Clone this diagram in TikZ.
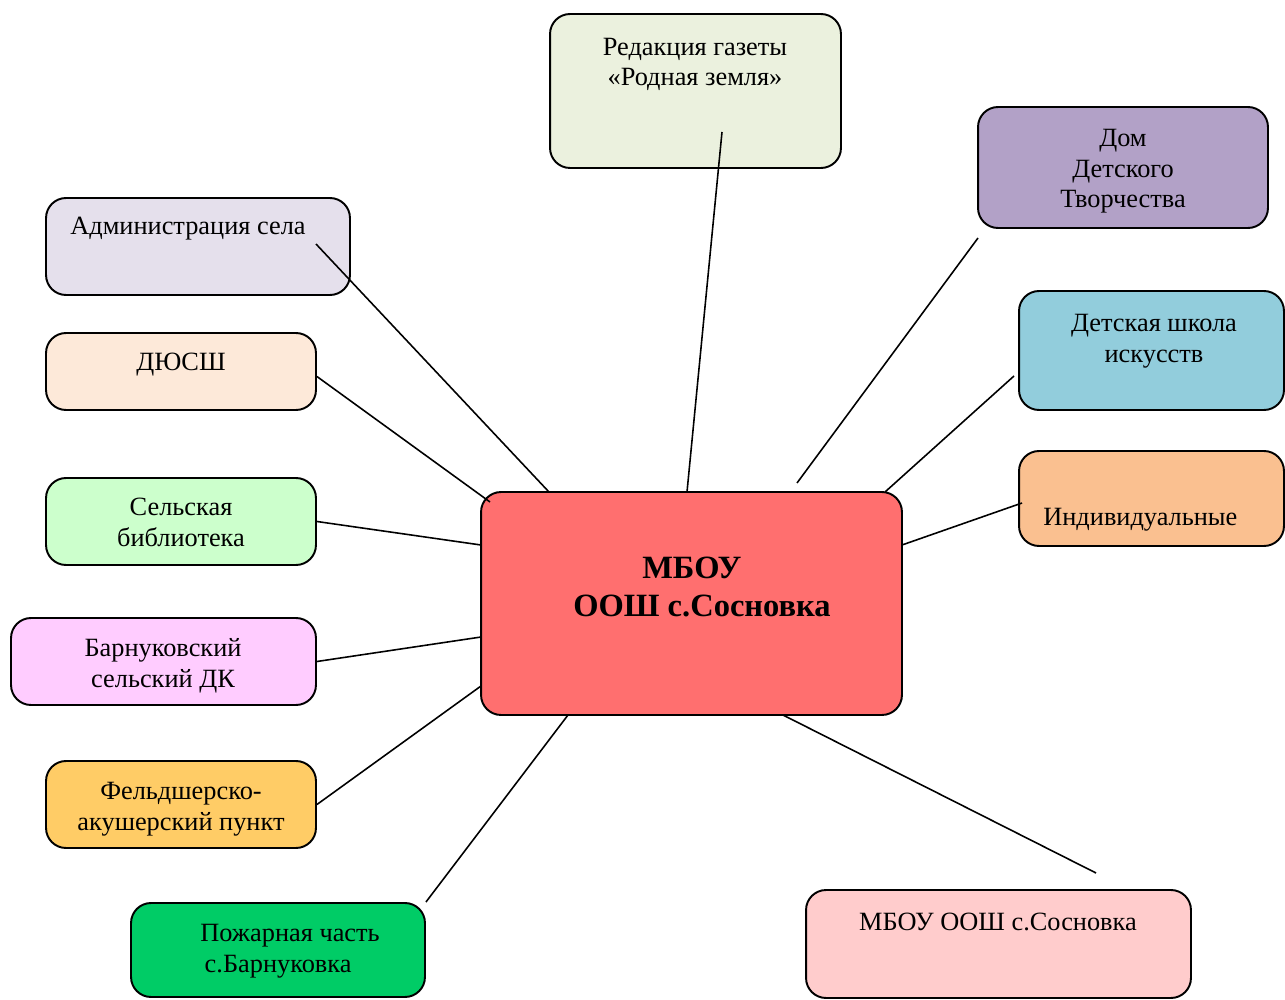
\documentclass[tikz,border=0pt]{standalone}
\usepackage{fontspec}
\setmainfont{Liberation Serif}
\usepackage{xcolor}
\definecolor{cRedak}{HTML}{EBF1DE}
\definecolor{cDom}{HTML}{B2A1C7}
\definecolor{cAdm}{HTML}{E5E0EC}
\definecolor{cDyussh}{HTML}{FDE9D9}
\definecolor{cDshi}{HTML}{92CDDC}
\definecolor{cIndiv}{HTML}{FAC090}
\definecolor{cBibl}{HTML}{CCFFCC}
\definecolor{cMbou}{HTML}{FF6F6F}
\definecolor{cDk}{HTML}{FFCCFF}
\definecolor{cFap}{HTML}{FFCC66}
\definecolor{cPch}{HTML}{00CC66}
\definecolor{cSchool}{HTML}{FFCCCC}

\begin{document}
\begin{tikzpicture}[
x=0.02cm, y=-0.02cm,
box/.style={draw, rounded corners=0.4cm, line width=1.1pt, inner sep=0pt},
txt/.style={inner sep=0pt, align=center, font=\fontsize{15}{17.6}\selectfont},
link/.style={line width=0.9pt},
]
\useasboundingbox (0,0) rectangle (1285,1000);

%% boxes
\node[box, fill=cRedak, minimum width=5.82cm, minimum height=3.08cm] (redak) at (695.5,91) {};
\node[box, fill=cDom, minimum width=5.8cm, minimum height=2.42cm] (dom) at (1123,167.5) {};
\node[box, fill=cAdm, minimum width=6.08cm, minimum height=1.94cm] (adm) at (198,246.5) {};
\node[box, fill=cDyussh, minimum width=5.4cm, minimum height=1.54cm] (dyussh) at (181,371.5) {};
\node[box, fill=cDshi, minimum width=5.3cm, minimum height=2.38cm] (dshi) at (1151.5,350.5) {};
\node[box, fill=cIndiv, minimum width=5.3cm, minimum height=1.9cm] (indiv) at (1151.5,498.5) {};
\node[box, fill=cBibl, minimum width=5.4cm, minimum height=1.74cm] (bibl) at (181,521.5) {};
\node[box, fill=cMbou, minimum width=8.42cm, minimum height=4.46cm] (mbou) at (691.5,603.5) {};
\node[box, fill=cDk, minimum width=6.1cm, minimum height=1.74cm] (dk) at (163.5,661.5) {};
\node[box, fill=cFap, minimum width=5.4cm, minimum height=1.74cm] (fap) at (181,804.5) {};
\node[box, fill=cPch, minimum width=5.88cm, minimum height=1.88cm] (pch) at (278,950) {};
\node[box, fill=cSchool, minimum width=7.7cm, minimum height=2.16cm] (school) at (998.5,944) {};

%% texts (base = last line)
\node[txt, anchor=base] (redakT) at (695,86) {Редакция газеты\\«Родная земля»};
\node[txt, anchor=base] (domT) at (1123,208) {Дом\\Детского\\Творчества};
\node[txt, anchor=base west] (admT) at (70,235) {Администрация села};
\node[txt, anchor=base] (dyusshT) at (181,370) {ДЮСШ};
\node[txt, anchor=base] (dshiT) at (1154,362) {Детская школа\\искусств};
\node[txt, anchor=base west] (indivT) at (1043,525) {Индивидуальные};
\node[txt, anchor=base] (biblT) at (181,546) {Сельская\\библиотека};
\node[txt, anchor=base, font=\fontsize{18.5}{21.2}\selectfont\bfseries] (mbouT) at (702,616) {МБОУ\hspace*{0.62em}\\ООШ с.Сосновка};
\node[txt, anchor=base] (dkT) at (163,687) {Барнуковский\\сельский ДК};
\node[txt, anchor=base] (fapT) at (181,830) {Фельдшерско-\\акушерский пункт};
\node[txt, anchor=base west, align=left] (pchT) at (200,972) {Пожарная часть\\\,с.Барнуковка};
\node[txt, anchor=base] (schoolT) at (998,930) {МБОУ ООШ с.Сосновка};

%% connector ends
\coordinate (redakE) at (722,132);
\coordinate (domE) at (978,238);
\coordinate (admE) at (316,244);
\coordinate (dshiE) at (1014,376);
\coordinate (indivE) at (1022,503);
\coordinate (schoolE) at (1096,873);
\coordinate (m1) at (687,492);
\coordinate (m2) at (797,483);
\coordinate (m3) at (549,492);
\coordinate (m4) at (490,502);
\coordinate (m5) at (885,492);
\coordinate (m6) at (902,545);
\coordinate (m7) at (481,545);
\coordinate (m8) at (481,637);
\coordinate (m9) at (481,686);
\coordinate (m10) at (568,715);
\coordinate (m11) at (783,715);

%% connectors
\draw[link] (redakE) -- (m1);
\draw[link] (domE) -- (m2);
\draw[link] (admE) -- (m3);
\draw[link] (dyussh.east) ++(0,5) -- (m4);
\draw[link] (dshiE) -- (m5);
\draw[link] (indivE) -- (m6);
\draw[link] (bibl.east) -- (m7);
\draw[link] (dk.east) -- (m8);
\draw[link] (fap.east) -- (m9);
\draw[link] (pch.north east) -- (m10);
\draw[link] (schoolE) -- (m11);
\end{tikzpicture}
\end{document}
